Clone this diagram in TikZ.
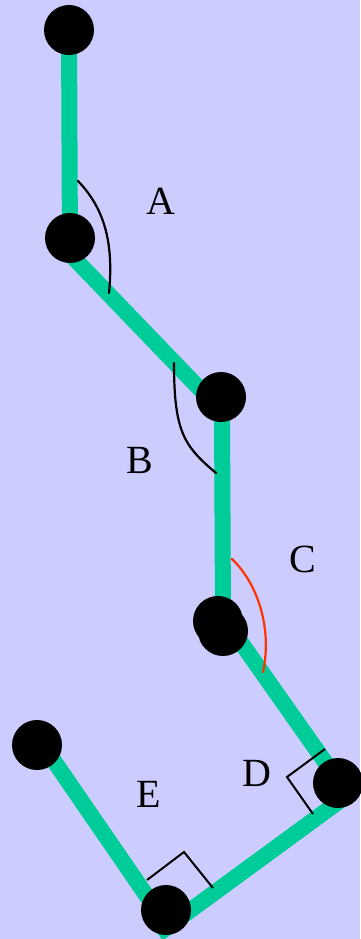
\documentclass[tikz,border=0pt]{standalone}
\usepackage{fontspec}
\setmainfont{Liberation Serif}
\definecolor{bgc}{HTML}{CCCCFF}
\definecolor{edgegreen}{HTML}{00CC99}
\definecolor{arcred}{HTML}{FF3300}
\begin{document}
\begin{tikzpicture}[x=1pt,y=-1pt,
  seg/.style={edgegreen,line width=16pt,line cap=butt},
  dot/.style={circle,fill=black,minimum size=50pt,inner sep=0pt},
  rightmark/.style={black,line width=2pt},
  anglearc/.style={black,line width=2.2pt,line cap=round},
  lbl/.style={font=\fontsize{40}{48}\selectfont,inner sep=0pt}]
\fill[bgc] (0,0) rectangle (360,939);
\useasboundingbox (0,0) rectangle (360,939);
% end points of the green segments
\coordinate (v1) at (69,30);
\coordinate (v2) at (70,254);
\coordinate (v3) at (222,412);
\coordinate (v4) at (223,617);
\coordinate (v5a) at (349,796);
\coordinate (v5b) at (345,797);
\coordinate (v6a) at (158,934);
\coordinate (v6b) at (166,924);
\coordinate (v7) at (43,745);
\draw[seg] (v1) -- (v2);
\draw[seg] (v2) -- (v3);
\draw[seg] (v3) -- (v4);
\draw[seg] (v4) -- (v5a);
\draw[seg] (v5b) -- (v6a);
\draw[seg] (v6b) -- (v7);
% points
\node[dot] (p1) at (69,30) {};
\node[dot] (p2) at (70,238) {};
\node[dot] (p3) at (221,397) {};
\node[dot] (p4a) at (218,621) {};
\node[dot] (p4b) at (223,631) {};
\node[dot] (p5) at (338,783) {};
\node[dot] (p6) at (166,910) {};
\node[dot] (p7) at (37,745) {};
% angle marks
\draw[anglearc] (78,181) .. controls (104,208) and (114,242) .. (109,293);
\draw[anglearc] (174,363) .. controls (174,432) and (184,446) .. (216,473);
\draw[anglearc,arcred] (232,559) .. controls (259,585) and (272,630) .. (263,672);
\draw[rightmark] (325,749) -- (287,777) -- (313,814);
\draw[rightmark] (147,880) -- (184,852) -- (213,888);
% labels
\node[lbl] (la) at (161,201) {A};
\node[lbl] (lb) at (140,460) {B};
\node[lbl] (lc) at (303,559) {C};
\node[lbl] (ld) at (257,773) {D};
\node[lbl] (le) at (149,794) {E};
\end{tikzpicture}
\end{document}
